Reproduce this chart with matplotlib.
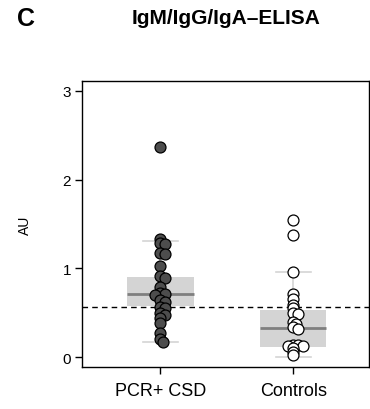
import numpy as np
import matplotlib
matplotlib.use("Agg")
import matplotlib.pyplot as plt

plt.rcParams['font.family'] = ['Liberation Sans', 'DejaVu Sans']

groups = ["PCR+ CSD", "Controls"]
pcr_vals = [2.37, 1.33, 1.29, 1.27, 1.17, 1.16, 1.03, 0.91, 0.89, 0.79, 0.72, 0.71,
            0.70, 0.64, 0.62, 0.57, 0.55, 0.50, 0.48, 0.44, 0.38, 0.27, 0.20, 0.17]
ctrl_vals = [1.55, 1.38, 0.96, 0.71, 0.65, 0.59, 0.55, 0.50, 0.49, 0.40, 0.37, 0.34,
             0.32, 0.14, 0.14, 0.13, 0.13, 0.10, 0.06, 0.02]
box_med = [0.71, 0.33]
box_q1 = [0.58, 0.11]
box_q3 = [0.90, 0.53]
box_whislo = [0.17, 0.00]
box_whishi = [1.31, 0.96]
cutoff = 0.565
yticks = [0, 1, 2, 3]

fig = plt.figure(figsize=(3.7, 4.1), dpi=100)
ax = fig.add_axes([82/370, 1-368/410, (369-82)/370, (368-82)/410])
ax.set_xlim(0.41, 2.57)
ax.set_ylim(-0.11, 3.11)

stats = []
for i in range(2):
    stats.append(dict(med=box_med[i], q1=box_q1[i], q3=box_q3[i],
                      whislo=box_whislo[i], whishi=box_whishi[i], fliers=[]))
ax.bxp(stats, positions=[1, 2], widths=0.5, patch_artist=True, showfliers=False,
       boxprops=dict(facecolor='#d4d4d4', edgecolor='none'),
       medianprops=dict(color='#7f7f7f', linewidth=2),
       whiskerprops=dict(color='#d4d4d4', linewidth=1.2),
       capprops=dict(color='#d4d4d4', linewidth=1.2), capwidths=0.26, zorder=1)

ax.axhline(cutoff, color='black', linestyle=(0, (4, 3)), linewidth=1.0, zorder=2)

def swarm(pos, vals):
    # compact beeswarm in pixel space allowing heavy overlap
    trans = ax.transData
    pts = trans.transform(np.column_stack([np.full(len(vals), pos), vals]))
    order = np.argsort(-np.array(vals))
    placed = []
    xs = np.zeros(len(vals))
    min_d = 3.5
    step = 2.5
    for idx in order:
        y = pts[idx, 1]
        x0 = pts[idx, 0]
        ok = 0.0
        for k in range(0, 20):
            cands = [0.0] if k == 0 else [k * step, -k * step]
            found = False
            for c in cands:
                if all((x0 + c - px) ** 2 + (y - py) ** 2 >= min_d ** 2 for px, py in placed):
                    ok = c
                    found = True
                    break
            if found:
                break
        placed.append((x0 + ok, y))
        xs[idx] = x0 + ok
    inv = trans.inverted()
    return inv.transform(np.column_stack([xs, pts[:, 1]]))[:, 0]

x1 = swarm(1, pcr_vals)
x2 = swarm(2, ctrl_vals)
ax.scatter(x1, pcr_vals, s=62, facecolor='#4d4d4d', edgecolor='black', linewidth=0.9, zorder=3)
ax.scatter(x2, ctrl_vals, s=62, facecolor='white', edgecolor='black', linewidth=0.9, zorder=3)

ax.set_xticks([1, 2])
ax.set_xticklabels(groups, fontsize=13)
ax.set_yticks(yticks)
ax.set_yticklabels([str(t) for t in yticks], fontsize=11)
ax.tick_params(axis='both', length=5, width=1, pad=3, color='black')
ax.tick_params(axis='x', pad=6)
for s in ax.spines.values():
    s.set_linewidth(1.0)
ax.set_ylabel('AU', fontsize=10, labelpad=22)

fig.text(226/370, 1-19/410, 'IgM/IgG/IgA\u2013ELISA', fontsize=15, fontweight='bold',
         ha='center', va='center')
fig.text(26/370, 1-19/410, 'C', fontsize=18, fontweight='bold', ha='center', va='center')

fig.savefig('out.png', dpi=100)
